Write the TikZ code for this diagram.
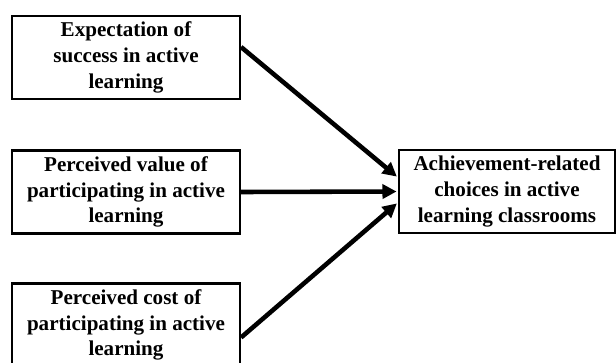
\documentclass[tikz,border=0pt]{standalone}
\usepackage{fontspec}
\setmainfont{Liberation Serif}
\usepackage{tikz}
\usetikzlibrary{arrows.meta}

\tikzset{
  factor/.style={rectangle, draw, line width=1.2pt, minimum width=4.56cm, minimum height=1.66cm, align=center, inner sep=2pt, font=\fontsize{12}{14.6}\selectfont\bfseries},
  outcome/.style={factor, minimum width=4.32cm},
  path/.style={line width=2.6pt, -{Triangle[length=8pt, width=8pt]}, shorten >=0.8pt}
}

\begin{document}
\begin{tikzpicture}
        \useasboundingbox (0,0) rectangle (12.32,-7.24);
        \node[factor] (expect) at (2.52,-1.15) {Expectation of\\success in active\\learning};
        \node[factor] (value) at (2.52,-3.84) {Perceived value of\\participating in active\\learning};
        \node[factor] (cost) at (2.52,-6.5) {Perceived cost of\\participating in active\\learning};
        \node[outcome] (choice) at (10.14,-3.83) {Achievement-related\\choices in active\\learning classrooms};

        \draw[path] ([yshift=0.21cm]expect.east) -- ([yshift=0.28cm]choice.west);
        \draw[path] (value.east) -- (choice.west);
        \draw[path] ([yshift=-0.25cm]cost.east) -- ([yshift=-0.22cm]choice.west);
    \end{tikzpicture}
\end{document}
